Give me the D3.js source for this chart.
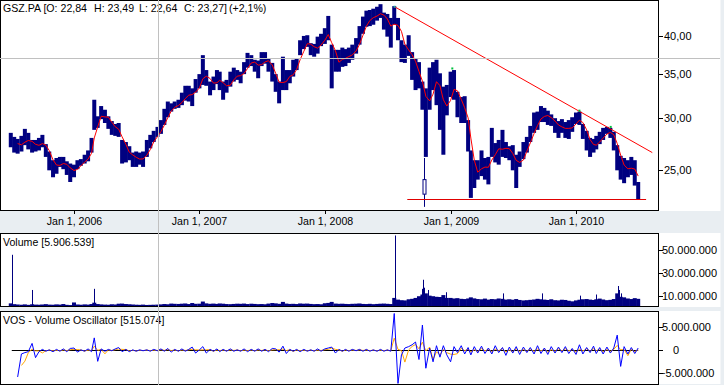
<!DOCTYPE html>
<html><head><meta charset="utf-8">
<script src="https://cdn.jsdelivr.net/npm/d3@7"></script>
<style>
html,body{margin:0;padding:0;background:#fff;}
svg{display:block;font-family:"Liberation Sans",Arial,sans-serif;}
</style></head><body>
<svg id="c" width="724" height="385"></svg>
<script>
// ---------------- DATA ----------------
const dates = [
"2005-07-01","2005-07-11","2005-07-21","2005-08-01","2005-08-11","2005-08-21","2005-09-01","2005-09-11","2005-09-21",
"2005-10-01","2005-10-11","2005-10-21","2005-11-01","2005-11-11","2005-11-21","2005-12-01","2005-12-11","2005-12-21",
"2006-01-01","2006-01-11","2006-01-21","2006-02-01","2006-02-11","2006-02-21","2006-03-01","2006-03-11","2006-03-21",
"2006-04-01","2006-04-11","2006-04-21","2006-05-01","2006-05-11","2006-05-21","2006-06-01","2006-06-11","2006-06-21",
"2006-07-01","2006-07-11","2006-07-21","2006-08-01","2006-08-11","2006-08-21","2006-09-01","2006-09-11","2006-09-21",
"2006-10-01","2006-10-11","2006-10-21","2006-11-01","2006-11-11","2006-11-21","2006-12-01","2006-12-11","2006-12-21",
"2007-01-01","2007-01-11","2007-01-21","2007-02-01","2007-02-11","2007-02-21","2007-03-01","2007-03-11","2007-03-21",
"2007-04-01","2007-04-11","2007-04-21","2007-05-01","2007-05-11","2007-05-21","2007-06-01","2007-06-11","2007-06-21",
"2007-07-01","2007-07-11","2007-07-21","2007-08-01","2007-08-11","2007-08-21","2007-09-01","2007-09-11","2007-09-21",
"2007-10-01","2007-10-11","2007-10-21","2007-11-01","2007-11-11","2007-11-21","2007-12-01","2007-12-11","2007-12-21",
"2008-01-01","2008-01-11","2008-01-21","2008-02-01","2008-02-11","2008-02-21","2008-03-01","2008-03-11","2008-03-21",
"2008-04-01","2008-04-11","2008-04-21","2008-05-01","2008-05-11","2008-05-21","2008-06-01","2008-06-11","2008-06-21",
"2008-07-01","2008-07-11","2008-07-21","2008-08-01","2008-08-11","2008-08-21","2008-09-01","2008-09-11","2008-09-21",
"2008-10-01","2008-10-11","2008-10-21","2008-11-01","2008-11-11","2008-11-21","2008-12-01","2008-12-11","2008-12-21",
"2009-01-01","2009-01-11","2009-01-21","2009-02-01","2009-02-11","2009-02-21","2009-03-01","2009-03-11","2009-03-21",
"2009-04-01","2009-04-11","2009-04-21","2009-05-01","2009-05-11","2009-05-21","2009-06-01","2009-06-11","2009-06-21",
"2009-07-01","2009-07-11","2009-07-21","2009-08-01","2009-08-11","2009-08-21","2009-09-01","2009-09-11","2009-09-21",
"2009-10-01","2009-10-11","2009-10-21","2009-11-01","2009-11-11","2009-11-21","2009-12-01","2009-12-11","2009-12-21",
"2010-01-01","2010-01-11","2010-01-21","2010-02-01","2010-02-11","2010-02-21","2010-03-01","2010-03-11","2010-03-21",
"2010-04-01","2010-04-11","2010-04-21","2010-05-01","2010-05-11","2010-05-21","2010-06-01","2010-06-11","2010-06-21",
"2010-07-01"];

const high = [
28.5,28.1,27.9, 28.2,28.9,28.5, 27.8,27.8,28.0, 28.3,27.4,26.7, 25.9,26.1,26.2, 26.2,25.8,25.6,
25.5,25.9,26.0, 26.4,26.8,28.0, 32.0,30.2,31.3, 30.9,30.2,29.7, 29.4,29.5,27.8, 27.6,27.2,26.6,
26.7,26.6,26.7, 27.8,28.3,28.7, 29.1,29.8,31.0, 31.8,31.6,31.8, 32.0,32.8,33.6, 33.6,33.3,34.4,
35.0,37.4,35.5, 34.1,34.7,35.5, 35.3,34.1,34.3, 35.3,35.8,35.5, 35.3,36.5,37.7, 37.4,36.8,36.7,
37.8,37.8,36.9, 36.4,35.0,34.1, 37.2,35.5,35.5, 36.8,37.0,39.4, 40.0,40.1,39.0, 38.9,39.9,40.3,
41.1,42.9,38.8, 38.1,38.1,38.4, 38.2,38.4,38.8, 39.7,41.4,42.8, 43.7,43.8,44.0, 44.3,44.7,43.4,
43.2,42.6,44.4, 42.6,39.4,38.8, 40.1,37.8,37.0, 36.5,34.1,33.3, 35.8,36.5,36.8, 35.1,33.5,33.7,
35.3,35.5,32.9, 32.3,32.4,29.8, 26.8,25.9,25.9, 26.8,26.1,26.2, 29.0,27.5,27.8, 28.8,27.6,27.2,
27.3,26.4,26.7, 27.6,28.1,29.2, 30.6,30.7,31.3, 31.1,30.8,30.4, 30.0,29.7,29.9, 29.6,29.8,30.1,
30.6,30.7,29.4, 28.7,28.0,27.9, 28.2,28.6,29.0, 29.1,29.0,28.6, 27.3,26.3,26.1, 25.9,26.2,25.9,
24.0];

const low = [
27.1,26.6,26.5, 26.7,27.3,26.9, 26.6,26.7,26.8, 27.1,26.2,25.0, 24.4,24.7,25.3, 25.1,24.6,24.0,
24.4,25.1,25.4, 25.6,25.8,26.6, 28.8,29.0,29.9, 29.5,28.9,28.3, 28.2,28.1,25.6, 25.7,25.9,25.3,
25.3,25.5,25.3, 26.2,27.0,27.6, 28.1,28.4,29.3, 30.1,30.7,31.0, 31.1,31.4,31.9, 31.8,31.3,32.8,
33.3,33.7,33.6, 32.5,33.1,33.8, 33.1,32.0,32.8, 33.5,34.1,34.3, 33.9,35.0,35.8, 36.0,35.3,34.5,
36.0,36.3,35.3, 34.1,32.9,31.6, 33.1,33.1,33.9, 34.7,35.5,37.4, 38.2,38.5,37.4, 37.2,37.6,38.6,
38.9,39.4,33.3, 35.3,35.3,35.9, 36.0,36.4,36.8, 37.6,38.8,40.3, 41.3,41.4,41.6, 42.2,42.6,40.9,
39.9,38.4,41.6, 39.4,36.5,36.4, 37.3,34.3,33.1, 33.3,30.9,26.2, 30.9,33.1,31.4, 28.8,26.4,30.3,
32.3,32.0,30.1, 29.5,29.5,26.7, 22.7,23.5,24.2, 24.5,24.2,23.8, 26.2,25.7,25.5, 26.2,26.1,25.9,
25.0,23.5,25.3, 26.0,26.6,27.6, 28.5,28.8,29.6, 29.6,29.3,29.2, 28.5,28.0,28.5, 28.0,27.9,28.6,
29.4,29.3,27.9, 26.8,26.2,26.6, 26.9,27.4,27.8, 28.4,28.0,26.8, 25.0,24.2,23.9, 24.4,24.6,23.7,
22.6];

// volume in millions of shares
const volume = [
3.2,2.5,2.2, 2.0,2.3,1.9, 2.4,2.1,2.0, 2.2,2.5,2.1, 2.0,2.3,2.1, 2.6,1.9,1.7,
4.0,2.2,2.0, 2.3,2.1,2.6, 3.8,2.6,2.3, 2.1,2.0,2.4, 2.2,2.9,3.0, 2.6,2.4,2.2,
2.0,1.9,2.1, 1.8,1.9,2.0, 2.1,2.3,2.6, 2.4,3.0,2.8, 2.7,2.9,3.1, 2.6,3.5,2.8,
2.9,4.8,3.2, 2.8,3.0,2.7, 3.1,2.9,2.6, 2.5,2.7,2.9, 2.8,3.0,2.6, 2.9,2.7,2.5,
2.6,2.4,3.0, 3.5,3.2,2.8, 4.5,3.0,2.7, 2.8,2.6,3.1, 2.9,3.0,2.7, 2.5,2.6,2.4,
3.3,3.6,4.5, 3.0,2.8,2.9, 2.7,2.6,2.8, 2.9,3.1,2.7, 2.6,2.8,2.5, 2.7,2.9,3.0,
2.8,2.6,8.0, 6.5,6.0,5.8, 6.8,7.2,8.0, 9.5,11.0,12.0, 10.0,9.5,9.0, 8.8,10.5,8.0,
8.0,7.5,7.8, 7.2,7.0,7.5, 8.5,7.6,7.0, 6.8,7.4,6.5, 7.0,6.8,7.5, 7.2,6.5,6.8,
6.4,7.0,6.2, 5.8,6.0,6.3, 6.6,7.2,6.8, 6.5,6.2,6.8, 6.0,5.8,6.4, 6.2,5.5,5.0,
5.8,6.4,6.8, 7.0,6.5,6.2, 6.8,7.4,6.6, 6.0,6.3,7.0, 12.0,9.0,8.5, 7.5,7.0,7.8,
7.2];

// single-day volume spikes (millions)
const spikeDates  = ["2005-07-04","2005-07-06","2005-08-31","2006-02-27","2006-03-01","2008-07-22","2008-10-10","2008-10-13","2008-10-17","2008-10-28","2008-12-19","2009-06-02","2009-09-24","2010-01-13","2010-03-01","2010-05-04","2010-05-07","2010-05-12"];
const spikeVolume = [46, 11, 15, 16, 10.5, 63, 16, 24, 17, 15, 13, 12, 12, 10, 11, 18.5, 15, 12];

// volume oscillator (millions)
const vos = [
null,null,-5.8, -0.8,-0.5,-0.3, 1.5,-1.6,-0.3, 0.2,-0.2,0.1, -0.3,0.2,-0.2, 0.3,-0.3,0.4,
0.5,-0.4,0.1, -0.2,0.3,-0.3, 2.7,-2.4,0.3, -0.2,0.2,-0.1, 0.3,0.6,-0.3, 0.2,-0.3,0.1,
-0.2,0.1,-0.1, 0.1,-0.2,0.2, -0.1,0.3,-0.2, 0.4,-0.4,0.2, -0.2,0.3,-0.2, 0.2,0.7,-0.6,
0.1,0.8,-0.6, 0.2,-0.2,0.3, -0.3,0.2,-0.2, 0.3,-0.2,0.1, -0.2,0.3,-0.3, 0.2,-0.2,0.3,
-0.2,0.2,-0.3, 0.4,0.3,-0.4, 0.9,-0.7,0.2, -0.2,0.2,-0.3, 0.2,-0.2,0.1, -0.2,0.3,-0.2,
0.3,0.5,0.7, -0.6,0.2,-0.2, 0.2,-0.2,0.2, -0.1,0.2,-0.2, 0.2,-0.2,0.1, -0.2,0.2,-0.2,
0.1,-0.2,8.0, -7.2,-1.0,0.5, 0.8,1.2,1.8, -2.0,5.5,-3.9, 0.5,-2.5,1.0, -1.5,1.0,-1.0,
-2.5,0.8,-0.5, 1.0,-0.8,0.6, -1.0,0.8,-0.6, 0.9,-0.7,0.5, -0.8,1.0,-0.5, 0.6,-1.1,0.7,
-0.6,0.8,-0.9, 0.7,-0.5,0.6, -0.8,1.0,-0.7, 0.5,-0.9,0.8, -0.6,0.7,-0.5, 0.8,-0.7,0.4,
-0.9,1.2,-0.8, 0.6,-0.5,0.9, -0.7,0.6,-0.8, 0.7,-0.6,0.5, 3.3,-3.5,0.8, -0.8,0.6,-0.7,
0.5];

// October 2008 outlier session (open, high, low, close)
const candleDate = ["2008-10-15"];
const candleOHLC = [[24.2, 26.1, 22.0, 23.0]];

// trend line and support line
const trendDates = ["2008-07-22", "2010-08-11"];
const trendPrices = [44.3, 26.6];
const supportDates = ["2008-08-28", "2010-07-24"];
const supportPrice = [22.64, 22.64];
// pivot markers
const pivotDates = ["2008-07-22", "2009-01-06", "2010-01-11", "2010-04-12"];
const pivotPrices = [44.3, 35.7, 30.8, 29.1];

// last bar / header values
const lastOHLC = {O: 22.84, H: 23.49, L: 22.64, C: 23.27, chg: 2.1};
const lastVolume = 5906539;
const lastVOS = 515074;

const priceTicks = [25, 30, 35, 40];
const volumeTicks = [10, 30, 50];      // millions
const vosTicks = [-5, 0, 5];           // millions
const xTickYears = [2006, 2007, 2008, 2009, 2010];

// ---------------- CHART ----------------
const loc = d3.formatLocale({decimal: ",", thousands: ".", grouping: [3], currency: ["", ""]});
const fP = loc.format(",.2f"), fI = loc.format(",.0f"), f1 = loc.format(",.1f");
const parse = d3.utcParse("%Y-%m-%d");
const D = dates.map(parse);

const svg = d3.select("#c");
const BAND = "#e9eef2", NAVY = "#000080";
const PR = 658.5; // plot right edge

const x = d3.scaleUtc()
  .domain([new Date(Date.UTC(2006,0,1)), new Date(Date.UTC(2010,0,1))])
  .range([74, 576]);
const yP = d3.scaleLog().domain([21.76, 45.2]).range([210, 1]);
const yV = d3.scaleLinear().domain([0, 65.2]).range([307, 233]);
const yO = d3.scaleLinear().domain([-5, 5]).range([373.3, 327.3]);

// backgrounds
svg.append("rect").attr("width",724).attr("height",385).attr("fill","#fff");
svg.append("rect").attr("x",0).attr("y",211).attr("width",724).attr("height",22).attr("fill",BAND);
svg.append("rect").attr("x",0).attr("y",307).attr("width",724).attr("height",4).attr("fill",BAND);
svg.append("rect").attr("x",0).attr("y",385-1).attr("width",724).attr("height",1).attr("fill",BAND);
svg.append("rect").attr("x",720.5).attr("y",0).attr("width",4).attr("height",385).attr("fill",BAND);

const defs = svg.append("defs");
function clip(id, y0, y1){
  defs.append("clipPath").attr("id",id).append("rect").attr("x",1).attr("y",y0).attr("width",PR-1).attr("height",y1-y0);
  return "url(#"+id+")";
}
const gMain = svg.append("g").attr("clip-path", clip("cm", 1, 210));
const gVol = svg.append("g").attr("clip-path", clip("cv", 234, 306));
const gVos = svg.append("g").attr("clip-path", clip("co", 312, 384));

// price bars
const bw = 4;
gMain.selectAll("rect.bar").data(D).join("rect")
  .attr("class","bar")
  .attr("x", d => x(d) - bw/2)
  .attr("width", bw)
  .attr("y", (d,i) => yP(high[i]))
  .attr("height", (d,i) => Math.max(1, yP(low[i]) - yP(high[i])))
  .attr("fill", NAVY);

// outlier candle
candleDate.forEach((s,i) => {
  const cx = Math.round(x(parse(s))) + 0.5, [o,h,l,c] = candleOHLC[i];
  gMain.append("line").attr("x1",cx).attr("x2",cx).attr("y1",yP(h)).attr("y2",yP(l)).attr("stroke",NAVY);
  gMain.append("rect").attr("x",cx-1.5).attr("width",3).attr("y",yP(Math.max(o,c))).attr("height",yP(Math.min(o,c))-yP(Math.max(o,c)))
    .attr("fill","#fff").attr("stroke",NAVY).attr("stroke-width",1);
});

// moving average (trailing mean of bar midpoints)
const mid = high.map((h,i) => (h + low[i]) / 2);
const ma = mid.map((v,i) => i < 2 ? null : d3.mean(mid.slice(i-2, i+1)));
gMain.append("path")
  .attr("d", d3.line().defined(d => d[1] != null).x(d => x(d[0])).y(d => yP(d[1]))(D.map((d,i)=>[d, ma[i]])))
  .attr("fill","none").attr("stroke","#ff0000").attr("stroke-width",1);

// trend & support lines
gMain.append("line")
  .attr("x1", x(parse(trendDates[0]))).attr("y1", yP(trendPrices[0]))
  .attr("x2", x(parse(trendDates[1]))).attr("y2", yP(trendPrices[1]))
  .attr("stroke","#ff0000").attr("stroke-width",1);
gMain.append("line")
  .attr("x1", x(parse(supportDates[0]))).attr("y1", Math.round(yP(supportPrice[0]))+0.5)
  .attr("x2", x(parse(supportDates[1]))).attr("y2", Math.round(yP(supportPrice[1]))+0.5)
  .attr("stroke","#e00000").attr("stroke-width",1);
pivotDates.forEach((s,i) => {
  gMain.append("rect").attr("x", x(parse(s))-1).attr("y", yP(pivotPrices[i])-1).attr("width",2).attr("height",2).attr("fill", i===0 ? "#30b0a0" : "#00c040");
});

// volume
gVol.selectAll("rect.v").data(D).join("rect")
  .attr("x", d => x(d) - bw/2).attr("width", bw)
  .attr("y", (d,i) => yV(volume[i])).attr("height", (d,i) => yV(0) - yV(volume[i]))
  .attr("fill", NAVY);
spikeDates.forEach((s,i) => {
  const sx = Math.round(x(parse(s))) + 0.5;
  gVol.append("line").attr("x1",sx).attr("x2",sx).attr("y1",yV(spikeVolume[i])).attr("y2",yV(0)).attr("stroke",NAVY);
});

// VOS
const signal = vos.map((v,i) => {
  const w = vos.slice(Math.max(0,i-2), i+1).filter(t => t != null);
  return (v == null || i < 3) ? null : d3.mean(w);
});
const firstX = x(D[0]) + 1, lastX = x(D[D.length-1]);
gVos.append("line").attr("x1", firstX).attr("x2", lastX).attr("y1", Math.round(yO(0))+0.5).attr("y2", Math.round(yO(0))+0.5).attr("stroke","#000");
const lineO = d3.line().defined(d => d[1] != null).x(d => x(d[0])).y(d => yO(d[1]));
gVos.append("path").attr("d", lineO(D.map((d,i)=>[d, signal[i]]))).attr("fill","none").attr("stroke","#ffa500").attr("stroke-width",1);
gVos.append("path").attr("d", lineO(D.map((d,i)=>[d, vos[i]]))).attr("fill","none").attr("stroke","#0000ff").attr("stroke-width",1);

// panel borders
[[0.5,210.5],[233.5,306.5],[311.5,384.5]].forEach(([a,b]) => {
  svg.append("rect").attr("x",0.5).attr("y",a).attr("width",PR-0.5).attr("height",b-a)
    .attr("fill","none").attr("stroke","#000").attr("stroke-width",1).attr("shape-rendering","crispEdges");
});

// right axes
const fs = "10.6px";
function rightAxis(ticks, scale, fmt, labelX){
  ticks.forEach(t => {
    const ty = Math.round(scale(t)) + 0.5;
    svg.append("line").attr("x1",PR).attr("x2",PR+4).attr("y1",ty).attr("y2",ty).attr("stroke","#000").attr("shape-rendering","crispEdges");
    svg.append("text").attr("x", labelX(t)).attr("y", ty).attr("dy","0.35em").attr("font-size","11px").attr("fill","#000").text(fmt(t));
  });
}
rightAxis(priceTicks, yP, fP, () => 664);
rightAxis(volumeTicks, yV, t => fI(t*1e6), () => 662);
rightAxis(vosTicks, yO, t => fI(t*1e6), t => t === 0 ? 673 : (t < 0 ? 659 : 662));

// x axis
xTickYears.forEach(yr => {
  const d = new Date(Date.UTC(yr,0,1)), tx = Math.round(x(d)) + 0.5;
  svg.append("line").attr("x1",tx).attr("x2",tx).attr("y1",211).attr("y2",214).attr("stroke","#000").attr("shape-rendering","crispEdges");
  svg.append("text").attr("x",tx).attr("y",224.5).attr("text-anchor","middle").attr("font-size",fs).text("Jan 1, " + yr);
});

// headers
const headParts = [
  [3,   `GSZ.PA [O: ${fP(lastOHLC.O)}`],
  [94,  `H: ${fP(lastOHLC.H)}`],
  [139, `L: ${fP(lastOHLC.L)}`],
  [184, `C: ${fP(lastOHLC.C)}]`],
  [229, `(+${f1(lastOHLC.chg)}%)`]
];
headParts.forEach(([hx, t]) => svg.append("text").attr("x",hx).attr("y",11.5).attr("font-size",fs).text(t));
svg.append("text").attr("x",3).attr("y",245.5).attr("font-size",fs).text(`Volume [${fI(lastVolume)}]`);
svg.append("text").attr("x",3).attr("y",324).attr("font-size",fs).text(`VOS - Volume Oscillator [${fI(lastVOS)}]`);

// crosshair
svg.append("line").attr("x1",0).attr("x2",720).attr("y1",58.5).attr("y2",58.5).attr("stroke","#c0c0c0").attr("shape-rendering","crispEdges");
svg.append("line").attr("x1",158.5).attr("x2",158.5).attr("y1",0).attr("y2",385).attr("stroke","#c0c0c0").attr("shape-rendering","crispEdges");
</script>
</body></html>
